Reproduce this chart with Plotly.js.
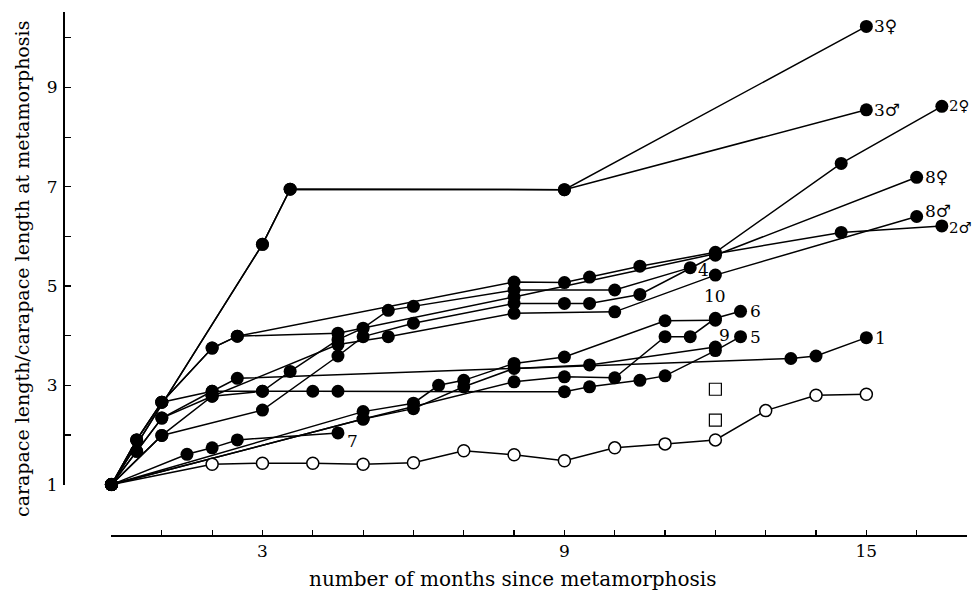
<!DOCTYPE html>
<html>
<head>
<meta charset="utf-8">
<script src="https://cdn.plot.ly/plotly-3.0.1.min.js"></script>
<style>html,body{margin:0;padding:0;background:#fff}#chart{width:974px;height:593px}</style>
</head>
<body>
<div id="chart"></div>
<script>
// ---- data (months since metamorphosis, relative carapace length) ----
var s3f_x = [0, 3, 3.55, 9, 15];
var s3f_y = [1, 5.84, 6.95, 6.94, 10.23];
var s3m_x = [0, 3, 3.55, 9, 15];
var s3m_y = [1, 5.84, 6.95, 6.94, 8.55];
var s2f_x = [0, 0.5, 1, 2, 2.5, 8, 9, 9.5, 10.5, 12, 14.5, 16.5];
var s2f_y = [1, 1.9, 2.66, 3.75, 3.99, 5.08, 5.07, 5.18, 5.40, 5.68, 7.47, 8.62];
var s2m_x = [0, 0.5, 1, 2, 2.5, 4.5, 8, 12, 14.5, 16.5];
var s2m_y = [1, 1.9, 2.66, 3.75, 3.99, 4.05, 4.78, 5.65, 6.08, 6.21];
var s4_x = [0, 0.5, 1, 2, 3, 3.55, 4.5, 5, 5.5, 6, 8, 10, 11.5];
var s4_y = [1, 1.9, 2.66, 2.88, 2.88, 3.28, 3.92, 4.15, 4.51, 4.59, 4.92, 4.92, 5.37];
var s8f_x = [0, 1, 3, 4.5, 5, 6, 8, 9, 9.5, 10.5, 12, 16];
var s8f_y = [1, 1.99, 2.5, 3.59, 3.98, 4.25, 4.65, 4.65, 4.65, 4.83, 5.62, 7.19];
var s8m_x = [0, 0.5, 1, 2, 4.5, 5.5, 8, 10, 12, 16];
var s8m_y = [1, 1.67, 2.34, 2.78, 3.82, 3.98, 4.45, 4.48, 5.22, 6.40];
var s1_x = [0, 0.5, 1, 2, 2.5, 13.5, 14, 15];
var s1_y = [1, 1.67, 2.34, 2.88, 3.14, 3.54, 3.59, 3.96];
var s5_x = [0, 1, 2, 3, 4, 4.5, 9, 9.5, 10.5, 11, 12, 12.5];
var s5_y = [1, 1.99, 2.78, 2.88, 2.88, 2.88, 2.87, 2.97, 3.10, 3.19, 3.70, 3.98];
var s6_x = [0, 5, 8, 9, 10, 11, 11.5, 12, 12.5];
var s6_y = [1, 2.32, 3.07, 3.17, 3.15, 3.98, 3.98, 4.35, 4.49];
var s10_x = [0, 5, 6, 6.5, 7, 8, 9, 11, 12];
var s10_y = [1, 2.47, 2.64, 3.0, 3.10, 3.44, 3.57, 4.30, 4.31];
var s9_x = [0, 5, 6, 7, 8, 9.5, 12];
var s9_y = [1, 2.32, 2.53, 2.97, 3.34, 3.41, 3.77];
var s7_x = [0, 1.5, 2, 2.5, 4.5];
var s7_y = [1, 1.61, 1.74, 1.90, 2.04];
var open_x = [0, 2, 3, 4, 5, 6, 7, 8, 9, 10, 11, 12, 13, 14, 15];
var open_y = [1, 1.41, 1.43, 1.43, 1.41, 1.44, 1.68, 1.60, 1.48, 1.74, 1.82, 1.90, 2.49, 2.80, 2.82];
var square_x = [12, 12];
var square_y = [2.92, 2.30];

var seriesNames = ['3♀', '3♂', '2♀', '2♂', '4', '8♀', '8♂', '1', '5', '6', '10', '9', '7'];
var seriesX = [s3f_x, s3m_x, s2f_x, s2m_x, s4_x, s8f_x, s8m_x, s1_x, s5_x, s6_x, s10_x, s9_x, s7_x];
var seriesY = [s3f_y, s3m_y, s2f_y, s2m_y, s4_y, s8f_y, s8m_y, s1_y, s5_y, s6_y, s10_y, s9_y, s7_y];

var xTickVals = [0,1,2,3,4,5,6,7,8,9,10,11,12,13,14,15,16,17];
var xTickText = ['','','','3','','','','','','9','','','','','','15','',''];
var yTickVals = [1,2,3,4,5,6,7,8,9,10];
var yTickText = ['1','','3','','5','','7','','9',''];

// label offsets and sizes (style only): [xshift, yshift, xanchor, fontsize]
var labelShift = {
  '3♀': [7, 0, 'left', 17], '3♂': [7, 0, 'left', 17], '2♀': [6, 0, 'left', 15], '2♂': [6, -2, 'left', 15],
  '4': [7, -2, 'left', 17], '8♀': [7, 0, 'left', 17], '8♂': [7, 6, 'left', 17], '1': [8, 0, 'left', 17],
  '5': [8, 0, 'left', 17], '6': [8, 0, 'left', 17], '10': [0, 24, 'center', 17], '9': [3, 12, 'left', 17], '7': [8, -8, 'left', 17]
};

var FONT = 'DejaVu Serif, Liberation Serif, serif';
var traces = [];
for (var i = 0; i < seriesNames.length; i++) {
  traces.push({
    type: 'scatter', mode: 'lines+markers', name: seriesNames[i],
    x: seriesX[i], y: seriesY[i], cliponaxis: false,
    line: {color: '#000', width: 1.5},
    marker: {color: '#000', size: 13, line: {width: 0}}
  });
}
// open circles: the shared starting point stays solid
var openFill = open_x.map(function (v, k) { return k === 0 ? '#000' : '#fff'; });
traces.push({
  type: 'scatter', mode: 'lines+markers', name: 'open',
  x: open_x, y: open_y, cliponaxis: false,
  line: {color: '#000', width: 1.5},
  marker: {color: openFill, size: 12, line: {color: '#000', width: 1.5}}
});
traces.push({
  type: 'scatter', mode: 'markers', name: 'squares',
  x: square_x, y: square_y, cliponaxis: false,
  marker: {symbol: 'square-open', color: '#000', size: 12, line: {color: '#000', width: 1.2}}
});

var annotations = [];
for (var j = 0; j < seriesNames.length; j++) {
  var n = seriesNames[j];
  var xs = seriesX[j], ys = seriesY[j];
  var sh = labelShift[n];
  annotations.push({
    x: xs[xs.length - 1], y: ys[ys.length - 1], xref: 'x', yref: 'y',
    text: n, showarrow: false, xanchor: sh[2], yanchor: 'middle',
    xshift: sh[0], yshift: sh[1], borderpad: 0,
    font: {family: FONT, size: sh[3], color: '#000'}
  });
}
annotations.push({
  x: 0.497, y: -0.084, xref: 'paper', yref: 'paper', showarrow: false,
  text: 'number of months since metamorphosis', xanchor: 'center', yanchor: 'middle',
  font: {family: FONT, size: 20, color: '#000'}
});
annotations.push({
  x: -0.0465, y: 0.5086, xref: 'paper', yref: 'paper', showarrow: false, textangle: -90,
  text: 'carapace length/carapace length at metamorphosis', xanchor: 'center', yanchor: 'middle',
  font: {family: FONT, size: 19, color: '#000'}
});

var layout = {
  width: 974, height: 593,
  margin: {l: 64, r: 7, t: 12, b: 58},
  paper_bgcolor: '#fff', plot_bgcolor: '#fff',
  showlegend: false,
  xaxis: {
    domain: [0.0526, 1], range: [0, 17], anchor: 'free', position: 0,
    showline: true, linecolor: '#000', linewidth: 1.8,
    ticks: 'inside', ticklen: 5, tickwidth: 1.2, tickcolor: '#000',
    tickmode: 'array', tickvals: xTickVals, ticktext: xTickText,
    ticklabelstandoff: 0,
    showgrid: false, zeroline: false,
    tickfont: {family: FONT, size: 17, color: '#000'}
  },
  yaxis: {
    domain: [0.0964, 1], range: [1, 10.52], anchor: 'free', position: 0,
    showline: true, linecolor: '#000', linewidth: 2,
    ticks: 'inside', ticklen: 6, tickwidth: 1.2, tickcolor: '#000',
    tickmode: 'array', tickvals: yTickVals, ticktext: yTickText,
    ticklabelstandoff: 2,
    showgrid: false, zeroline: false,
    tickfont: {family: FONT, size: 17, color: '#000'}
  },
  annotations: annotations
};

Plotly.newPlot('chart', traces, layout, {staticPlot: true, displayModeBar: false});
</script>
</body>
</html>
